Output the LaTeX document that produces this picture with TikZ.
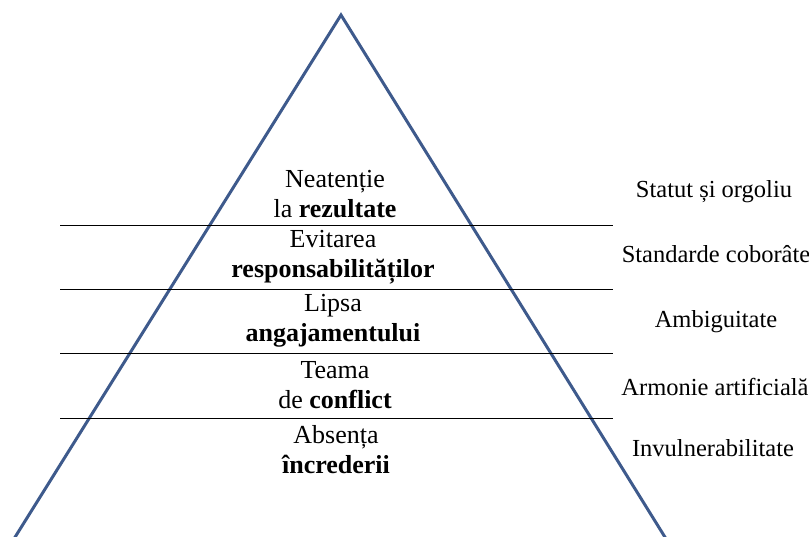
\documentclass[tikz,border=0pt]{standalone}
\usepackage{fontspec}
\setmainfont{Liberation Serif}
\definecolor{pyrblue}{RGB}{62,90,140}
\begin{document}
\begin{tikzpicture}[x=1pt,y=-1pt,
  level/.style={align=center,inner sep=0pt,font=\fontsize{26}{30}\selectfont},
  cause/.style={anchor=center,inner sep=0pt,font=\fontsize{24.5}{28}\selectfont},
  divider/.style={draw=black,line width=1pt},
  edge/.style={draw=pyrblue,line width=3pt,line join=miter}]
\useasboundingbox (0,0) rectangle (809,537);
\clip (0,0) rectangle (809,537);

% pyramid outline
\coordinate (apex) at (341,15);
\coordinate (bl) at (12,542);
\coordinate (br) at (668,542);
\draw[edge] (bl) -- (apex) -- (br);

% level dividers
\foreach \y/\n in {226/a,290/b,354/c,418/d}{
  \coordinate (l\n) at (60,\y);
  \coordinate (r\n) at (613,\y);
  \draw[divider] (l\n) -- (r\n);
}

% pyramid levels
\node[level] (n1) at (335,194) {Neatenție\\la \textbf{rezultate}};
\node[level] (n2) at (333,257) {Evitarea\\\textbf{responsabilităților}};
\node[level] (n3) at (333,321) {Lipsa\\\textbf{angajamentului}};
\node[level] (n4) at (335,385) {Teama\\de \textbf{conflict}};
\node[level] (n5) at (336,450) {Absența\\\textbf{încrederii}};

% causes
\node[cause] (c1) at (714,192) {Statut și orgoliu};
\node[cause] (c2) at (716,254) {Standarde coborâte};
\node[cause] (c3) at (716,322) {Ambiguitate};
\node[cause] (c4) at (715,387) {Armonie artificială};
\node[cause] (c5) at (713,448) {Invulnerabilitate};
\end{tikzpicture}
\end{document}
